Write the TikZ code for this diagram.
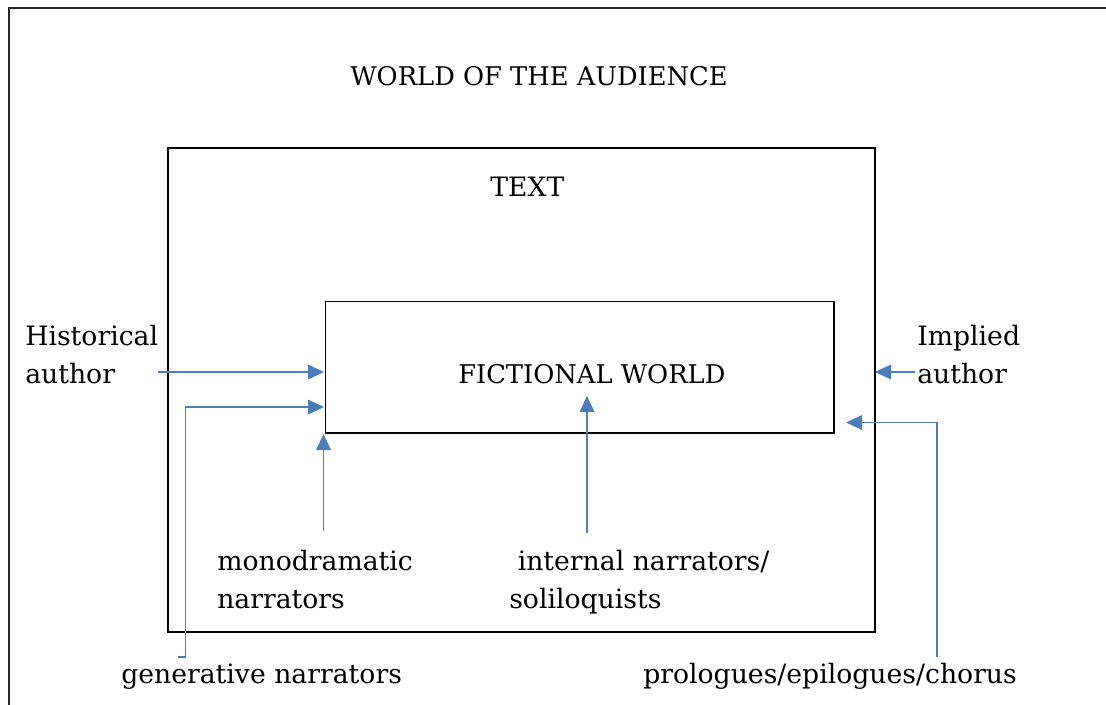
\documentclass[tikz,border=0pt]{standalone}
\usepackage{fontspec}
\setmainfont{DejaVu Serif}
\usetikzlibrary{arrows.meta}
\definecolor{arrowblue}{RGB}{74,126,187}
\begin{document}
\begin{tikzpicture}[x=0.75pt,y=-0.75pt,
  label text/.style={inner sep=0pt,align=left,font=\fontsize{20}{28.5}\selectfont},
  caps text/.style={inner sep=0pt,font=\fontsize{19.3}{28.5}\selectfont},
  frame/.style={draw=black,line width=0.8pt},
  pointer/.style={draw=arrowblue,line width=0.9pt,-{Triangle[length=12pt,width=11pt]}}]
\useasboundingbox (0,0) rectangle (1106,704);
\clip (0,0) rectangle (1106,704);
\fill[white] (0,0) rectangle (1106,704);

% outer frame: the world of the audience
\draw[draw=black!85,line width=1.5pt] (9,730) -- (9,8) -- (1130,8);

% the text and the fictional world inside it
\draw[frame] (168,148) rectangle (875,632);
\draw[frame] (325.5,301.5) rectangle (834,433);

% labels (multi-line nodes are placed by the baseline of their last line)
\node[caps text,anchor=base west] (world) at (350,85) {WORLD OF THE AUDIENCE};
\node[label text,anchor=base west] (text) at (490,196) {TEXT};
\node[caps text,anchor=base west] (fiction) at (458,383) {FICTIONAL WORLD};
\node[label text,anchor=base west] (hist) at (25,383) {Historical\\author};
\node[label text,anchor=base west] (impl) at (917,383) {Implied\\author};
\node[label text,anchor=base west] (mono) at (217,608) {monodramatic\\narrators};
\node[label text,anchor=base west] (intern) at (509,608) {\ internal narrators/\\soliloquists};
\node[label text,anchor=base west] (gen) at (121,683) {generative narrators};
\node[label text,anchor=base west] (prol) at (643,683) {prologues/epilogues/chorus};

% connector end points
\coordinate (histS) at (158,372);
\coordinate (histE) at (324,372);
\coordinate (genS) at (178,657);
\coordinate (genC) at (185.5,657);
\coordinate (genB) at (185.5,407);
\coordinate (genE) at (324,407);
\coordinate (monoS) at (323.5,531);
\coordinate (monoE) at (323.5,434);
\coordinate (intS) at (587,533);
\coordinate (intE) at (587,396);
\coordinate (implS) at (915,372);
\coordinate (implE) at (875,372);
\coordinate (prolS) at (937,657);
\coordinate (prolB) at (937,422.5);
\coordinate (prolE) at (846,422.5);

% connectors
\draw[pointer] (histS) -- (histE);
\draw[pointer] (genS) -- (genC) -- (genB) -- (genE);
\draw[pointer] (monoS) -- (monoE);
\draw[pointer] (intS) -- (intE);
\draw[pointer] (implS) -- (implE);
\draw[pointer] (prolS) -- (prolB) -- (prolE);
\end{tikzpicture}
\end{document}
